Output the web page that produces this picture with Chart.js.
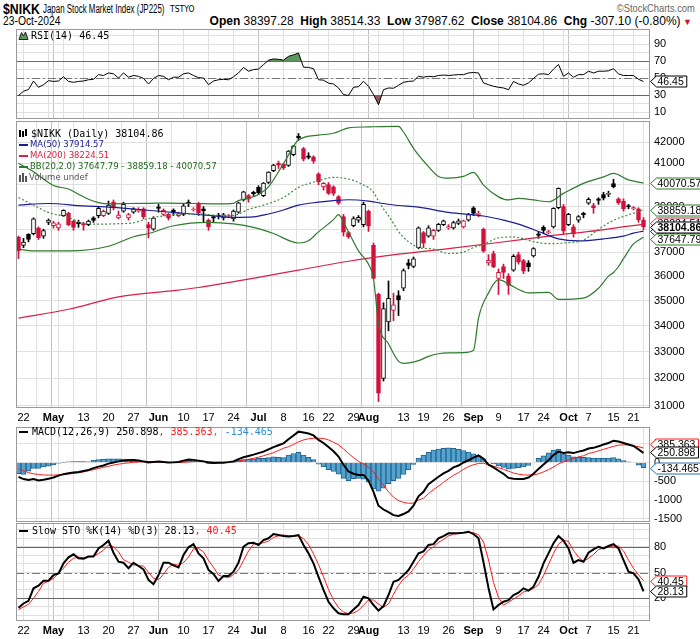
<!DOCTYPE html>
<html>
<head>
<meta charset="utf-8">
<title>$NIKK</title>
<script src="https://cdn.jsdelivr.net/npm/chart.js@4.4.1/dist/chart.umd.min.js"></script>
<style>
  html, body { margin: 0; padding: 0; background: #fff; }
  body { width: 700px; height: 639px; position: relative; overflow: hidden; }
  canvas { position: absolute; left: 0; }
  .t { position: absolute; white-space: nowrap; color: #000; transform-origin: 0 0; }
</style>
</head>
<body>
<div class="t" style="left:3px;top:1px;font:bold 15px/15px 'Liberation Sans',sans-serif;transform:scaleX(0.82)">$NIKK</div>
<div class="t" style="left:43px;top:3px;font:12px/12px 'Liberation Sans',sans-serif;transform:scaleX(0.66)">Japan Stock Market Index (JP225)</div>
<div class="t" style="left:170px;top:5px;font:9px/9px 'DejaVu Sans',sans-serif;transform:scaleX(0.85)">TSTYO</div>
<div class="t" style="right:5px;top:3px;font:11px/11px 'Liberation Sans',sans-serif;color:#666;transform:scaleX(0.85);transform-origin:100% 0">&copy;StockCharts.com</div>
<div class="t" style="left:3px;top:15px;font:12px/12px 'Liberation Sans',sans-serif;transform:scaleX(0.86)">23-Oct-2024</div>
<div class="t" style="right:8px;top:15px;font:12px/12px sans-serif"><b>Open</b> 38397.28 &nbsp;<b>High</b> 38514.33 &nbsp;<b>Low</b> 37987.62 &nbsp;<b>Close</b> 38104.86 &nbsp;<b>Chg</b> -307.10 (-0.80%)<span style="color:#c8102e;font-size:9px"> &#9660;</span></div>

<canvas id="rsi" width="700" height="90" style="top:29px"></canvas>
<canvas id="price" width="700" height="305" style="top:121px"></canvas>
<canvas id="macd" width="700" height="95" style="top:427px"></canvas>
<canvas id="sto" width="700" height="116" style="top:523px"></canvas>

<script>
// trading days, 19 Apr - 23 Oct 2024
const monthNames = ['Apr', 'May', 'Jun', 'Jul', 'Aug', 'Sep', 'Oct'];
const aprDays = [19, 22, 23, 24, 25, 26, 30];
const mayDays = [1, 2, 7, 8, 9, 10, 13, 14, 15, 16, 17, 20, 21, 22, 23, 24, 27, 28, 29, 30, 31];
const junDays = [3, 4, 5, 6, 7, 10, 11, 12, 13, 14, 17, 18, 19, 20, 21, 24, 25, 26, 27, 28];
const julDays = [1, 2, 3, 4, 5, 8, 9, 10, 11, 12, 16, 17, 18, 19, 22, 23, 24, 25, 26, 29, 30, 31];
const augDays = [1, 2, 5, 6, 7, 8, 9, 13, 14, 15, 16, 19, 20, 21, 22, 23, 26, 27, 28, 29, 30];
const sepDays = [2, 3, 4, 5, 6, 9, 10, 11, 12, 13, 17, 18, 19, 20, 24, 25, 26, 27, 30];
const octDays = [1, 2, 3, 4, 7, 8, 9, 10, 11, 15, 16, 17, 18, 21, 22, 23];

// week / month grid lines (day index), some without a label
const gridIdx = [1, 6, 7, 9, 13, 18, 23, 28, 33, 38, 43, 48, 53, 58, 62, 67, 70, 72, 77, 81, 86, 91, 96, 101, 105, 109, 110, 114, 119, 123];
const unlabeledIdx = [6, 9, 72, 109];

const opens = [37650, 37300, 37770, 37800, 38050, 37700, 38300, 38150, 38050, 38600,
  38700, 38350, 38300, 38250, 38200, 38500, 38600, 38600, 38700, 39200,
  38500, 38800, 38500, 38750, 38800, 38900, 38200, 38000, 38990, 38650,
  38650, 38850, 38600, 38650, 39200, 38850, 39150, 38900, 38400, 38550,
  38600, 38500, 38560, 38450, 38750, 39300, 39500, 39650, 39880, 39500,
  40100, 40650, 41000, 40950, 40900, 41400, 42300, 41700, 41350, 41300,
  40500, 39900, 40000, 39900, 39450, 38550, 37850, 38150, 38400, 38200,
  38800, 37300, 35250, 32000, 34150, 34600, 35200, 35500, 36550, 36400,
  37200, 37850, 37700, 37700, 37950, 38200, 38050, 38050, 38250, 38100,
  38400, 38950, 38650, 38000, 36550, 36950, 35900, 36400, 36000, 36250,
  36900, 36650, 36550, 36850, 37800, 38080, 37850, 38100, 38950, 39000,
  38200, 38100, 38400, 38700, 39150, 39050, 39350, 39550, 39550, 40050,
  39350, 39250, 39050, 38900, 38900, 38397.28];
const highs = [37700, 37600, 37800, 38500, 38100, 38000, 38450, 38350, 38300, 38860,
  38750, 38400, 38400, 38300, 38400, 38550, 39000, 38850, 39250, 39300,
  38800, 39200, 38700, 38950, 38950, 38950, 38300, 38550, 39100, 38900,
  38700, 38900, 38750, 39150, 39300, 38950, 39200, 39000, 38450, 38600,
  38700, 38700, 38650, 38850, 39200, 39700, 39550, 39700, 39950, 40100,
  40600, 40950, 41100, 41000, 41600, 41850, 42426, 41750, 41500, 41350,
  40550, 40100, 40100, 39950, 39500, 38650, 37900, 38550, 38600, 39200,
  38850, 37400, 35300, 34911, 35800, 35300, 35400, 36300, 36700, 36800,
  38100, 37900, 38150, 38000, 38250, 38400, 38200, 38350, 38450, 38400,
  38700, 39000, 38800, 38050, 36900, 37050, 36300, 36500, 36100, 36900,
  37000, 36700, 36650, 37200, 37900, 38150, 37950, 38950, 39850, 39100,
  38700, 38200, 38600, 38750, 39400, 39150, 39400, 39650, 39700, 40250,
  39400, 39350, 39100, 39000, 38950, 38514.33];
const lows = [36733, 37200, 37450, 37750, 37550, 37600, 38200, 38050, 37950, 38550,
  38150, 37950, 38080, 37950, 38150, 38300, 38500, 38550, 38650, 38850,
  38450, 38750, 38400, 38700, 38750, 38450, 37620, 37950, 38750, 38600,
  38400, 38600, 38550, 38600, 39000, 38800, 38600, 38300, 37950, 38300,
  38450, 38400, 38500, 38350, 38700, 39250, 39200, 39500, 39550, 39450,
  40050, 40600, 40750, 40700, 40850, 41350, 42100, 41100, 41200, 41000,
  40000, 39750, 39550, 39500, 39100, 37700, 37600, 38100, 38300, 38100,
  37900, 35880, 31156, 31900, 33800, 34200, 34400, 35400, 36300, 36350,
  37150, 37200, 37650, 37550, 37900, 38150, 38000, 38000, 38200, 38050,
  38350, 38600, 38550, 37000, 36450, 36350, 35247, 35900, 35250, 36200,
  36500, 36100, 36200, 36800, 37600, 37800, 37800, 38050, 38900, 37800,
  38150, 37650, 38300, 38500, 39100, 38700, 39100, 39300, 39450, 39850,
  39100, 38800, 38900, 38850, 38300, 37987.62];
const closes = [37068, 37438, 37552, 38460, 37628, 37934, 38405, 38274, 38236, 38835,
  38202, 38073, 38229, 38179, 38356, 38385, 38920, 38787, 39069, 38946,
  38617, 39103, 38646, 38900, 38855, 38556, 38054, 38487, 38923, 38837,
  38490, 38703, 38683, 39038, 39134, 38876, 38720, 38814, 38102, 38482,
  38570, 38633, 38596, 38804, 39173, 39667, 39341, 39583, 39631, 40074,
  40580, 40913, 40912, 40780, 41580, 41831, 42224, 41190, 41275, 41097,
  40126, 40063, 39599, 39594, 39154, 37869, 37667, 38468, 38525, 39101,
  38126, 35909, 31458, 34675, 35089, 34831, 35025, 36232, 36442, 36726,
  38062, 37388, 38062, 37951, 38211, 38364, 38110, 38288, 38371, 38362,
  38647, 38700, 38686, 37047, 36657, 36391, 36159, 36150, 35619, 36833,
  36581, 36203, 36380, 37155, 37723, 37940, 37870, 38925, 39829, 37919,
  38651, 37808, 38552, 38635, 39332, 38937, 39277, 39380, 39605, 39910,
  39180, 38911, 38981, 38954, 38411, 38104.86];

// overlays (day index -> value)
const ma50Idx = [0, 6, 13, 18, 24, 31, 38, 43, 47, 50, 53, 56, 60, 63, 66, 70, 73, 76, 80, 86, 93, 97, 100, 104, 108, 112, 117, 121, 123, 125];
const ma50 = [39070, 39140, 39030, 38980, 38870, 38740, 38610, 38520, 38540, 38670, 38850, 39070, 39200, 39270, 39310, 39250, 39140, 39050, 38980, 38740, 38580, 38400, 38220, 37900, 37580, 37490, 37580, 37700, 37830, 37914.57];
const ma200Idx = [0, 10, 20, 30, 36, 48, 56, 66, 76, 86, 96, 106, 116, 125];
const ma200 = [34300, 34650, 35150, 35380, 35530, 35950, 36250, 36620, 36920, 37160, 37420, 37700, 37950, 38224.51];
const bbUpIdx = [0, 3, 7, 10, 12, 14, 16, 18, 22, 26, 30, 35, 40, 43, 44, 46, 48, 50, 53, 56, 60, 63, 66, 70, 76, 77, 79, 82, 84, 86, 89, 91, 93, 96, 98, 100, 103, 106, 109, 113, 117, 119, 122, 125];
const bbUp = [41000, 40600, 39960, 39800, 39560, 39330, 39180, 39120, 39140, 39150, 39160, 39140, 39120, 39150, 39270, 39380, 39550, 39900, 40980, 42110, 42350, 42440, 42700, 42750, 42780, 42500, 41710, 40840, 40380, 40300, 40380, 40570, 39980, 39440, 39300, 39370, 39300, 39220, 39600, 40060, 40360, 40520, 40220, 40070.57];
const bbMidIdx = [0, 3, 6, 10, 13, 16, 20, 23, 26, 30, 33, 36, 40, 43, 46, 50, 53, 56, 60, 63, 66, 67, 68, 69, 70, 71, 72, 73, 74, 75, 76, 77, 78, 79, 80, 83, 86, 89, 91, 93, 96, 99, 103, 106, 109, 113, 116, 119, 122, 125];
const bbMid = [39410, 39070, 38740, 38520, 38250, 38220, 38240, 38280, 38470, 38610, 38670, 38670, 38610, 38610, 38870, 39140, 39410, 39870, 40180, 40340, 40260, 40200, 40100, 39980, 39870, 39650, 39250, 38900, 38600, 38250, 37900, 37650, 37450, 37300, 37200, 37140, 36950, 37010, 37200, 37340, 37620, 37660, 37460, 37370, 37400, 37530, 37990, 38390, 38630, 38859.18];
const bbLowIdx = [0, 3, 10, 18, 23, 26, 31, 38, 43, 47, 51, 56, 58, 60, 63, 64, 65, 66, 68, 70, 71, 72, 74, 76, 77, 80, 82, 84, 86, 89, 91, 92, 94, 96, 98, 100, 102, 106, 108, 113, 116, 118, 119, 120, 121, 123, 125];
const bbLow = [37140, 37060, 37060, 37260, 37670, 37810, 38150, 38300, 38230, 38080, 37810, 37400, 37500, 37880, 38420, 38640, 38300, 37880, 37060, 36500, 35900, 34100, 33300, 32640, 32560, 32660, 32820, 32920, 32950, 32960, 33050, 34300, 35310, 35850, 35680, 35450, 35310, 35330, 35050, 35100, 35500, 36000, 36150, 36400, 36730, 37360, 37647.79];

const rsi = [30, 35, 37, 47, 39.6, 42.7, 47.4, 46.5, 47, 52,
  46.5, 45.5, 46.5, 47, 48.5, 49, 54.5, 53.5, 56.5, 55.5,
  50.5, 56.5, 51.5, 53.5, 52.5, 50, 43.5, 50, 53.5, 52.5,
  48.5, 51.5, 51.5, 55.5, 56.5, 53.5, 51, 50.5, 42.7, 47,
  48.5, 49, 48.5, 52, 56.5, 63, 58.5, 60.5, 61, 66.3,
  71.4, 73, 72.5, 71.5, 76, 77.8, 80, 63.2, 63, 61.5,
  48.5, 48, 44.5, 43.5, 38.8, 31, 30, 39.6, 40.3, 46.7,
  40.8, 31, 19.2, 36.8, 38.8, 38.5, 42, 45.5, 46.5, 47,
  52.6, 51.5, 52.5, 52, 53.5, 54, 53.5, 54, 54.5, 54.5,
  56.5, 57, 56.5, 44.7, 42.7, 40.8, 39.6, 38.8, 36.8, 46.5,
  43.5, 42, 44.7, 50, 55, 55.5, 54.5, 61, 66.5, 52.5,
  56.5, 51.4, 54.5, 54.5, 58.5, 56.5, 58.5, 58.5, 59, 61.5,
  55.3, 53.5, 53.5, 53.5, 49, 46.45];

const macd = [-380, -440, -465, -440, -480, -460, -430, -400, -350, -310,
  -285, -265, -250, -225, -200, -150, -110, -80, -30, 0,
  30, 50, 60, 65, 55, 30, 5, 15, 25, 15,
  0, 5, 15, 50, 80, 70, 50, 30, 0, -10,
  -5, -5, 10, 30, 90, 140, 175, 210, 250, 290,
  350, 410, 460, 510, 620, 720, 820, 800, 770, 720,
  600, 520, 410, 300, 160, -60, -240, -300, -330, -330,
  -480, -780, -1150, -1250, -1320, -1400, -1420, -1370, -1300, -1150,
  -900, -780, -580, -480, -380, -290, -220, -130, -80, 0,
  60, 130, 190, 100, -60, -130, -220, -300, -410, -430,
  -440, -440, -400, -300, -170, -50, 60, 200, 290, 255,
  270, 250, 290, 320, 370, 390, 430, 480, 520, 580,
  560, 520, 480, 440, 350, 250.898];
const signal = [-170, -220, -270, -300, -320, -332, -335, -335, -330, -320,
  -305, -290, -275, -250, -220, -190, -160, -130, -100, -70,
  -45, -25, -10, 5, 15, 20, 20, 15, 10, 5,
  0, 0, 0, 5, 15, 25, 30, 30, 25, 15,
  10, 5, 10, 20, 35, 60, 85, 110, 140, 180,
  220, 260, 320, 380, 420, 480, 550, 600, 630, 645,
  645, 640, 600, 540, 470, 360, 240, 130, 30, -40,
  -130, -250, -450, -600, -780, -920, -1010, -1060, -1085, -1080,
  -1000, -950, -830, -720, -630, -530, -430, -340, -270, -180,
  -110, -60, -25, -20, -60, -100, -140, -180, -230, -280,
  -310, -330, -335, -330, -300, -250, -190, -120, -40, 20,
  70, 110, 150, 180, 240, 270, 310, 350, 390, 430,
  460, 470, 465, 440, 420, 385.363];
const hist = [-300, -320, -230, -160, -160, -120, -95, -65, -20, 10,
  20, 25, 25, 25, 20, 60, 80, 90, 100, 100,
  95, 90, 85, 75, 55, 10, -15, 0, 15, 10,
  0, 5, 15, 45, 65, 45, 20, 0, -25, -25,
  -15, -10, 0, 10, 55, 80, 90, 100, 110, 110,
  130, 150, 140, 130, 200, 240, 270, 200, 140, 75,
  -45, -120, -190, -240, -310, -420, -480, -430, -420, -440,
  -520, -700, -760, -680, -560, -480, -420, -320, -200, -50,
  120, 200, 270, 330, 360, 380, 390, 380, 350, 320,
  280, 230, 180, 100, 0, -40, -90, -130, -180, -160,
  -140, -120, -80, 0, 110, 180, 260, 330, 360, 230,
  200, 150, 140, 140, 130, 120, 120, 120, 120, 130,
  100, 50, 15, 0, -70, -134.465];

const stoK = [9, 14, 17, 31.6, 34.7, 40.5, 40.5, 47, 49, 60.7,
  67.7, 71.2, 66.5, 66, 68.6, 68.6, 78, 82, 87, 73,
  62.6, 61.4, 55, 61.4, 57.6, 53.7, 41.3, 36.3, 47, 61.4,
  61.4, 58.4, 55.8, 70.3, 79.3, 83, 72.3, 66.5, 53, 48.3,
  40.1, 46, 46, 51, 61.4, 80, 84, 84.7, 82, 87.8,
  89.8, 94.8, 93.6, 92.5, 91.9, 92.5, 93.6, 82, 72.3, 60.7,
  45, 29.7, 16, 8.4, 2.6, 1.4, 1.4, 7, 12.2, 21.9,
  20, 12.2, 5.6, 11, 23.8, 39.3, 41.3, 47, 52.9, 62.6,
  72.3, 74.5, 82, 83, 89.8, 92.4, 95.6, 95.6, 95.6, 96.4,
  97.5, 94.8, 89.8, 62, 32, 7, 12.2, 16, 17.8, 23.8,
  26.5, 31.6, 29, 33.5, 45, 60.7, 72.3, 84, 92.4, 87,
  78, 61.4, 64.5, 62.6, 73, 77, 80, 78, 80.8, 83,
  78, 64.5, 51, 49, 42, 28.13];
const stoD = [7, 10, 13, 20, 28, 37.4, 40, 43.3, 49, 55,
  62, 66.5, 68, 67, 68, 69, 72, 76, 82, 80,
  74, 65, 62, 59, 58, 57.6, 50, 43.3, 41.5, 48,
  56, 59.5, 58.5, 61.5, 68, 77.5, 78, 74, 64, 56,
  47, 45, 44, 47.7, 53, 64, 75, 83, 83.6, 84.8,
  86.5, 90.8, 92.7, 93.6, 92.7, 92.3, 92.7, 89.4, 82.6, 71.7,
  59.3, 45.1, 30.2, 18, 9, 4.1, 1.8, 3, 6, 12,
  18, 18, 13.3, 9.6, 13.5, 24.7, 34.8, 42.5, 47, 54.2,
  62.6, 69.8, 76.3, 79.8, 85, 88.4, 92.6, 94.5, 95.6, 95.9,
  96.5, 96.2, 94, 85.6, 64.6, 38.5, 21, 12, 15.3, 19.2,
  22.7, 27.3, 29, 31.4, 36, 46.4, 59.3, 72.3, 82.9, 87.8,
  86, 75.5, 68, 62.8, 66.7, 70.9, 76.7, 78.3, 79.6, 80.6,
  80.6, 75.2, 64.5, 54.8, 47.3, 40.45];

// ---------------------------------------------------------------
const dates = [];
[aprDays, mayDays, junDays, julDays, augDays, sepDays, octDays].forEach((list, m) => {
  list.forEach((d, k) => dates.push({ month: monthNames[m], day: d, monthStart: k === 0 && m > 0 }));
});
const isMonth = i => dates[i] && dates[i].monthStart;
const tickLabel = i => unlabeledIdx.includes(i) ? '' : (isMonth(i) ? dates[i].month : String(dates[i].day));

const RED = '#d0103a', BLACK = '#000000';
const NAVY = '#1b1b96', CRIMSON = '#dc1e46', GREEN = '#2e7a2e', BLUE = '#2e8fcf';

Chart.defaults.font.family = "'Liberation Sans', Arial, sans-serif";
Chart.defaults.color = '#000';

const pts = (idx, vals) => idx.map((x, k) => ({ x, y: vals[k] }));
const daily = vals => vals.map((y, x) => ({ x, y }));

function xAxis(showLabels) {
  return {
    type: 'linear', min: -0.5, max: 126.3, offset: false, bounds: 'data',
    border: { display: false },
    grid: {
      drawTicks: false,
      color: c => (c.tick && isMonth(c.tick.value)) ? '#c2c2c2' : '#e0e0e0'
    },
    ticks: {
      display: showLabels, autoSkip: false, maxRotation: 0, padding: 3, color: '#000',
      font: c => ({ size: 11, weight: (c.tick && isMonth(c.tick.value)) ? 'bold' : 'normal' }),
      callback: v => tickLabel(v)
    },
    afterBuildTicks: s => { s.ticks = gridIdx.map(v => ({ value: v })); },
    afterFit: s => { s.height = showLabels ? 18 : 0; s.paddingLeft = 0; s.paddingRight = 0; }
  };
}

function yAxis(type, min, max, tickVals, labelVals) {
  return {
    type, position: 'right', min, max, bounds: 'data',
    border: { display: false },
    grid: { drawTicks: false, color: '#e0e0e0' },
    ticks: {
      padding: 4, color: '#000', autoSkip: false, font: { size: 11 },
      callback: v => labelVals.includes(v) ? String(v) : ''
    },
    afterBuildTicks: s => { s.ticks = tickVals.map(v => ({ value: v })); },
    afterFit: s => { s.width = 50; s.paddingTop = 0; s.paddingBottom = 0; }
  };
}

function baseOptions(showX, y) {
  return {
    responsive: false, animation: false, events: [],
    layout: { padding: { left: 16, right: 0, top: 0, bottom: 0 } },
    plugins: { legend: { display: false }, tooltip: { enabled: false } },
    scales: { x: xAxis(showX), y }
  };
}

function hline(chart, v, color, dash) {
  const { ctx, chartArea: a } = chart;
  const y = Math.round(chart.scales.y.getPixelForValue(v)) + 0.5;
  ctx.save();
  ctx.strokeStyle = color; ctx.lineWidth = 1; ctx.setLineDash(dash || []);
  ctx.beginPath(); ctx.moveTo(a.left, y); ctx.lineTo(a.right, y); ctx.stroke();
  ctx.restore();
}

function frame(chart) {
  const { ctx, chartArea: a } = chart;
  ctx.save();
  ctx.strokeStyle = '#9a9a9a'; ctx.lineWidth = 1;
  ctx.strokeRect(Math.round(a.left) + 0.5, Math.round(a.top) + 0.5, Math.round(a.right - a.left) - 1, Math.round(a.bottom - a.top) - 1);
  ctx.restore();
}

function tag(chart, v, text, color, bold, dy) {
  const { ctx } = chart;
  const y = Math.round(chart.scales.y.getPixelForValue(v) + (dy || 0)) + 0.5;
  ctx.save();
  ctx.font = (bold ? 'bold ' : '') + "10.5px 'Liberation Sans'";
  const w = ctx.measureText(text).width;
  const x0 = 650.5, h = 11;
  ctx.beginPath();
  ctx.moveTo(x0, y);
  ctx.lineTo(x0 + 6, y - h / 2);
  ctx.lineTo(x0 + 10 + w, y - h / 2);
  ctx.lineTo(x0 + 10 + w, y + h / 2);
  ctx.lineTo(x0 + 6, y + h / 2);
  ctx.closePath();
  ctx.fillStyle = '#fff'; ctx.fill();
  ctx.strokeStyle = color; ctx.lineWidth = 1; ctx.stroke();
  ctx.fillStyle = '#000'; ctx.textBaseline = 'middle';
  ctx.fillText(text, x0 + 7, y + 0.5);
  ctx.restore();
}

// panel titles are monospaced, overlay entries proportional
const TITLE_FONT = "10px 'DejaVu Sans Mono'";
const ITEM_FONT = "8.5px 'DejaVu Sans'";
function txt(ctx, s, x, y, color, font) {
  ctx.font = font || TITLE_FONT; ctx.fillStyle = color; ctx.textBaseline = 'middle';
  ctx.fillText(s, x, y);
  return x + ctx.measureText(s).width;
}
function marker(ctx, y, color) {
  ctx.strokeStyle = color; ctx.lineWidth = 2;
  ctx.beginPath(); ctx.moveTo(19, y); ctx.lineTo(28, y); ctx.stroke();
}

// ------------------------------ RSI ------------------------------
new Chart(document.getElementById('rsi'), {
  type: 'line',
  data: {
    datasets: [
      { data: daily(rsi), borderColor: '#000', borderWidth: 1, pointRadius: 0,
        fill: { target: { value: 70 }, above: '#5e965e', below: 'rgba(0,0,0,0)' } },
      { data: daily(rsi), borderWidth: 0, borderColor: 'rgba(0,0,0,0)', pointRadius: 0,
        fill: { target: { value: 30 }, above: 'rgba(0,0,0,0)', below: '#9a5858' } }
    ]
  },
  options: baseOptions(false, yAxis('linear', 2.3, 108.2, [10, 20, 30, 40, 50, 60, 70, 80, 90, 100], [10, 30, 50, 70, 90])),
  plugins: [{
    id: 'rsiDecor',
    beforeDatasetsDraw(chart) {
      hline(chart, 70, '#666'); hline(chart, 30, '#666'); hline(chart, 50, '#777', [8, 3, 2, 3]);
    },
    afterDraw(chart) {
      const ctx = chart.ctx;
      frame(chart);
      ctx.save();
      ctx.beginPath(); ctx.moveTo(19, 10.5); ctx.lineTo(21.5, 3.5); ctx.lineTo(23.5, 7); ctx.lineTo(25.5, 3); ctx.lineTo(28, 10.5); ctx.closePath();
      ctx.fillStyle = '#5e965e'; ctx.fill(); ctx.strokeStyle = '#222'; ctx.lineWidth = 1; ctx.stroke();
      txt(ctx, 'RSI(14) 46.45', 31, 7, '#000');
      ctx.restore();
      tag(chart, 46.45, '46.45', '#000');
    }
  }]
});

// ------------------------------ Price ------------------------------
const up = i => i > 0 && closes[i] >= closes[i - 1];
const candleColor = i => up(i) ? BLACK : RED;
const hollow = i => closes[i] >= opens[i];
const priceTicks = [31000, 32000, 33000, 34000, 35000, 36000, 37000, 38000, 39000, 40000, 41000, 42000];

new Chart(document.getElementById('price'), {
  type: 'bar',
  data: {
    datasets: [
      { type: 'line', order: 0, data: pts(bbUpIdx, bbUp), borderColor: GREEN, borderWidth: 1.2, pointRadius: 0, cubicInterpolationMode: 'monotone' },
      { type: 'line', order: 1, data: pts(bbLowIdx, bbLow), borderColor: GREEN, borderWidth: 1.2, pointRadius: 0, cubicInterpolationMode: 'monotone' },
      { type: 'line', order: 2, data: pts(bbMidIdx, bbMid), borderColor: '#3f8f3f', borderWidth: 1.2, borderDash: [2, 2], pointRadius: 0, cubicInterpolationMode: 'monotone' },
      { type: 'line', order: 3, data: pts(ma50Idx, ma50), borderColor: NAVY, borderWidth: 1.2, pointRadius: 0, cubicInterpolationMode: 'monotone' },
      { type: 'line', order: 4, data: pts(ma200Idx, ma200), borderColor: CRIMSON, borderWidth: 1.2, pointRadius: 0, cubicInterpolationMode: 'monotone' },
      { type: 'bar', order: 5, grouped: false, barThickness: 4, minBarLength: 1, borderSkipped: false, borderWidth: 1,
        data: opens.map((o, i) => ({ x: i, y: [o, closes[i]] })),
        backgroundColor: c => hollow(c.dataIndex) ? '#ffffff' : candleColor(c.dataIndex),
        borderColor: c => candleColor(c.dataIndex) },
      { type: 'bar', order: 6, grouped: false, barThickness: 1, borderWidth: 0,
        data: lows.map((l, i) => ({ x: i, y: [l, highs[i]] })),
        backgroundColor: c => candleColor(c.dataIndex) }
    ]
  },
  options: baseOptions(true, yAxis('logarithmic', 30925, 43043, priceTicks, priceTicks)),
  plugins: [{
    id: 'priceDecor',
    afterDraw(chart) {
      const ctx = chart.ctx;
      frame(chart);
      ctx.save();
      // candle icon
      ctx.fillStyle = '#000'; ctx.strokeStyle = '#000'; ctx.lineWidth = 1;
      ctx.fillRect(19, 9, 2, 7); ctx.fillRect(22, 10, 2, 6); ctx.fillRect(25, 8, 2, 7);
      txt(ctx, '$NIKK (Daily) 38104.86', 31, 13, '#000');
      marker(ctx, 24, NAVY); txt(ctx, 'MA(50) 37914.57', 30, 24, NAVY, ITEM_FONT);
      marker(ctx, 35, CRIMSON); txt(ctx, 'MA(200) 38224.51', 30, 35, CRIMSON, ITEM_FONT);
      marker(ctx, 46, GREEN); txt(ctx, 'BB(20,2.0) 37647.79 - 38859.18 - 40070.57', 30, 46, '#1f6a1f', ITEM_FONT);
      ctx.fillStyle = '#555';
      ctx.fillRect(19, 54, 2, 7); ctx.fillRect(22, 52, 2, 9); ctx.fillRect(25, 55, 2, 6);
      txt(ctx, 'Volume undef', 29, 57, '#555', ITEM_FONT);
      ctx.restore();
      tag(chart, 40070.57, '40070.57', GREEN);
      tag(chart, 38859.18, '38859.18', GREEN);
      tag(chart, 37914.57, '37914.57', NAVY);
      tag(chart, 37647.79, '37647.79', GREEN, false, 2);
      tag(chart, 38224.51, '38224.51', CRIMSON, false, -1);
      tag(chart, 38104.86, '38104.86', '#000', true);
    }
  }]
});

// ------------------------------ MACD ------------------------------
new Chart(document.getElementById('macd'), {
  type: 'bar',
  data: {
    datasets: [
      { type: 'line', order: 0, data: daily(macd), borderColor: '#000', borderWidth: 2, pointRadius: 0 },
      { type: 'line', order: 1, data: daily(signal), borderColor: '#ff1a1a', borderWidth: 1, pointRadius: 0 },
      { type: 'bar', order: 2, grouped: false, barThickness: 5, borderWidth: 1, borderColor: '#22658f', backgroundColor: '#56a2cf',
        data: daily(hist) }
    ]
  },
  options: baseOptions(false, yAxis('linear', -1582, 944, [-1500, -1000, -500, 0, 500], [-1500, -1000, -500, 0, 500])),
  plugins: [{
    id: 'macdDecor',
    afterDraw(chart) {
      const ctx = chart.ctx;
      frame(chart);
      ctx.save();
      marker(ctx, 5, '#000');
      let x = txt(ctx, 'MACD(12,26,9) 250.898', 32, 5, '#000');
      x = txt(ctx, ', 385.363', x, 5, '#ff1a1a');
      txt(ctx, ', -134.465', x, 5, BLUE);
      ctx.restore();
      tag(chart, 385.363, '385.363', '#ff1a1a', false, -4);
      tag(chart, 250.898, '250.898', '#000', false, -1);
      tag(chart, -134.465, '-134.465', '#2a6fa8');
    }
  }]
});

// ------------------------------ Slow STO ------------------------------
new Chart(document.getElementById('sto'), {
  type: 'line',
  data: {
    datasets: [
      { data: daily(stoK), borderColor: '#000', borderWidth: 2, pointRadius: 0 },
      { data: daily(stoD), borderColor: '#ff1a1a', borderWidth: 1, pointRadius: 0 }
    ]
  },
  options: baseOptions(true, yAxis('linear', -6.4, 107.6, [0, 10, 20, 30, 40, 50, 60, 70, 80, 90, 100], [20, 50, 80])),
  plugins: [{
    id: 'stoDecor',
    beforeDatasetsDraw(chart) {
      hline(chart, 80, '#666'); hline(chart, 20, '#666'); hline(chart, 50, '#777', [8, 3, 2, 3]);
    },
    afterDraw(chart) {
      const ctx = chart.ctx;
      frame(chart);
      ctx.save();
      marker(ctx, 8, '#000');
      const x = txt(ctx, 'Slow STO %K(14) %D(3) 28.13', 32, 8, '#000');
      txt(ctx, ', 40.45', x, 8, '#ff1a1a');
      ctx.restore();
      tag(chart, 40.45, '40.45', '#ff1a1a');
      tag(chart, 28.13, '28.13', '#000');
    }
  }]
});
</script>
</body>
</html>
